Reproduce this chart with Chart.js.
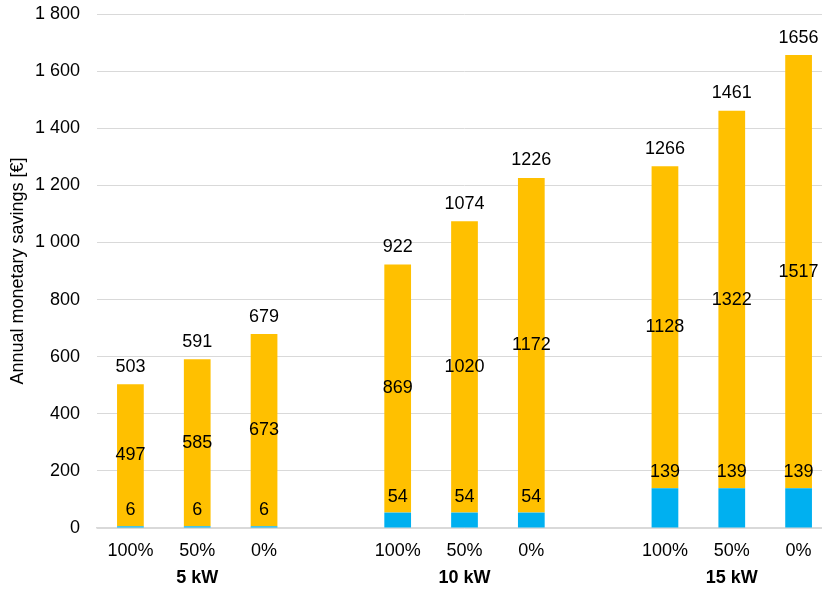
<!DOCTYPE html>
<html>
<head>
<meta charset="utf-8">
<script src="https://cdn.jsdelivr.net/npm/chart.js@4.4.1/dist/chart.umd.min.js"></script>
<style>
    html, body {
        margin: 0;
        padding: 0;
        background: #fff;
        overflow: hidden;
    }
    #wrap {
        width: 832px;
        height: 590px;
    }
</style>
</head>
<body>
<div id="wrap"><canvas id="savingsChart"></canvas></div>
<script>
// Annual savings per PV size and self-consumption share

const categories = ['100%', '50%', '0%', '', '100%', '50%', '0%', '', '100%', '50%', '0%'];
const groups = ['5 kW', '10 kW', '15 kW'];
const baseSavings = [6, 6, 6, null, 54, 54, 54, null, 139, 139, 139];
const extraSavings = [497, 585, 673, null, 869, 1020, 1172, null, 1128, 1322, 1517];
const totalSavings = [503, 591, 679, null, 922, 1074, 1226, null, 1266, 1461, 1656];
const yTicks = [0, 200, 400, 600, 800, 1000, 1200, 1400, 1600, 1800];

const FONT = '"Liberation Sans", Arial, sans-serif';
const AXIS_TITLE = 'Annual monetary savings [€]';

function spaced(n) {
    return String(n).replace(/\B(?=(\d{3})+(?!\d))/g, ' ');
}

// value labels, group names and the rotated axis title
const labelPlugin = {
    id: 'labelPlugin',
    afterDatasetsDraw(chart) {
        const ctx = chart.ctx;
        const x = chart.scales.x;
        const y = chart.scales.y;
        const area = chart.chartArea;

        ctx.save();
        ctx.fillStyle = '#000';
        ctx.textAlign = 'center';
        ctx.textBaseline = 'middle';
        ctx.font = '18px ' + FONT;

        categories.forEach((cat, i) => {
            if (baseSavings[i] == null) return;
            const cx = x.getPixelForValue(i);
            const base = baseSavings[i];
            const extra = extraSavings[i];
            // inside the orange part, at its middle
            ctx.fillText(String(extra), cx, y.getPixelForValue(base + extra / 2));
            // just above the blue part
            ctx.fillText(String(base), cx, y.getPixelForValue(base) - 16);
            // total above the stack
            ctx.fillText(String(totalSavings[i]), cx, y.getPixelForValue(base + extra) - 17.5);
        });

        ctx.font = 'bold 18px ' + FONT;
        groups.forEach((g, gi) => {
            ctx.fillText(g, x.getPixelForValue(gi * 4 + 1), 578);
        });

        ctx.font = '18px ' + FONT;
        ctx.translate(18, (area.top + area.bottom) / 2);
        ctx.rotate(-Math.PI / 2);
        ctx.fillText(AXIS_TITLE, 0, 0);
        ctx.restore();
    }
};

const ctx = document.getElementById('savingsChart').getContext('2d');
new Chart(ctx, {
    type: 'bar',
    data: {
        labels: categories,
        datasets: [
            {
                label: 'Base',
                data: baseSavings,
                backgroundColor: '#00B0F0',
                categoryPercentage: 0.4,
                barPercentage: 1
            },
            {
                label: 'Extra',
                data: extraSavings,
                backgroundColor: '#FFC000',
                categoryPercentage: 0.4,
                barPercentage: 1
            }
        ]
    },
    options: {
        responsive: true,
        maintainAspectRatio: false,
        animation: false,
        layout: {
            padding: { top: 14, right: 0, bottom: 30, left: 0 }
        },
        plugins: {
            legend: { display: false },
            tooltip: { enabled: false }
        },
        scales: {
            x: {
                stacked: true,
                grid: { display: false, drawTicks: false },
                border: { display: true, color: '#D9D9D9', width: 1.5 },
                ticks: {
                    color: '#000',
                    padding: 12,
                    maxRotation: 0,
                    autoSkip: false,
                    font: { family: FONT, size: 18 }
                },
                afterFit(scale) {
                    scale.height = 32;
                    scale.paddingLeft = 0;
                    scale.paddingRight = 0;
                }
            },
            y: {
                stacked: true,
                min: 0,
                max: 1800,
                afterBuildTicks(scale) {
                    scale.ticks = yTicks.map(v => ({ value: v }));
                },
                grid: { color: '#D9D9D9', lineWidth: 1, drawTicks: false },
                border: { display: false },
                ticks: {
                    color: '#000',
                    padding: 17,
                    font: { family: FONT, size: 18 },
                    callback: v => spaced(v)
                },
                afterFit(scale) {
                    scale.width = 97;
                    scale.paddingTop = 0;
                    scale.paddingBottom = 0;
                }
            }
        }
    },
    plugins: [labelPlugin]
});
</script>
</body>
</html>
